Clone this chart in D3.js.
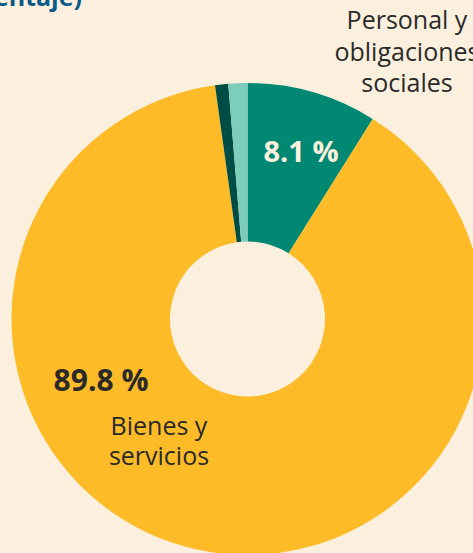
<!DOCTYPE html>
<html>
<head>
<meta charset="utf-8">
<script src="https://cdnjs.cloudflare.com/ajax/libs/d3/7.8.5/d3.min.js"></script>
<style>
  body { margin: 0; background: #faf0dd; overflow: hidden; }
  svg { display: block; }
</style>
</head>
<body>
<div id="chart-area"></div>
<script>
// ---------DATA--------------
let categories = ["Personal y obligaciones sociales", "Bienes y servicios", "Otros 1", "Otros 2"];
let shares = [8.9, 88.9, 0.9, 1.3];   // share of the ring as drawn
let valueLabels = ["8.1 %", "89.8 %", "", ""];
let colors = ["#008872", "#fdbb27", "#004d46", "#7ccdba"];

let width = 473, height = 553;
let cx = 247.5, cy = 319;
let outerR = 236, innerR = 77.5;

let svg = d3.select("#chart-area").append("svg")
  .attr("width", width)
  .attr("height", height);

svg.append("rect")
  .attr("width", width).attr("height", height)
  .attr("fill", "#faf0dd");

// title (cut off at the top of the picture)
svg.append("text")
  .attr("x", 82)
  .attr("y", 6)
  .attr("text-anchor", "end")
  .attr("font-family", "Open Sans")
  .attr("font-weight", "bold")
  .attr("font-size", "25px")
  .attr("fill", "#0b5b88")
  .text("(en porcentaje)");

let g = svg.append("g")
  .attr("transform", "translate(" + cx + "," + cy + ")");

let pie = d3.pie().sort(null).value(d => d);
let arc = d3.arc().innerRadius(innerR).outerRadius(outerR);

g.selectAll("path")
  .data(pie(shares))
  .enter()
  .append("path")
    .attr("d", arc)
    .attr("fill", (d, i) => colors[i]);

// -------LABELS--------------
function addLines(x, y, lines, size, weight, fill, lh) {
  let t = svg.append("text")
    .attr("text-anchor", "middle")
    .attr("font-family", "Open Sans")
    .attr("font-size", size + "px")
    .attr("font-weight", weight)
    .attr("fill", fill);
  lines.forEach(function(l, i) {
    t.append("tspan").attr("x", x).attr("y", y + i * lh).text(l);
  });
}

addLines(301, 162, [valueLabels[0]], 29, "bold", "#faf0dd", 0);
addLines(101, 391, [valueLabels[1]], 30, "bold", "#2a2a2a", 0);
addLines(159, 435, ["Bienes y", "servicios"], 25, "normal", "#2a2a2a", 30);
addLines(407, 29, ["Personal y", "obligaciones", "sociales"], 25, "normal", "#2a2a2a", 31.5);
</script>
</body>
</html>
